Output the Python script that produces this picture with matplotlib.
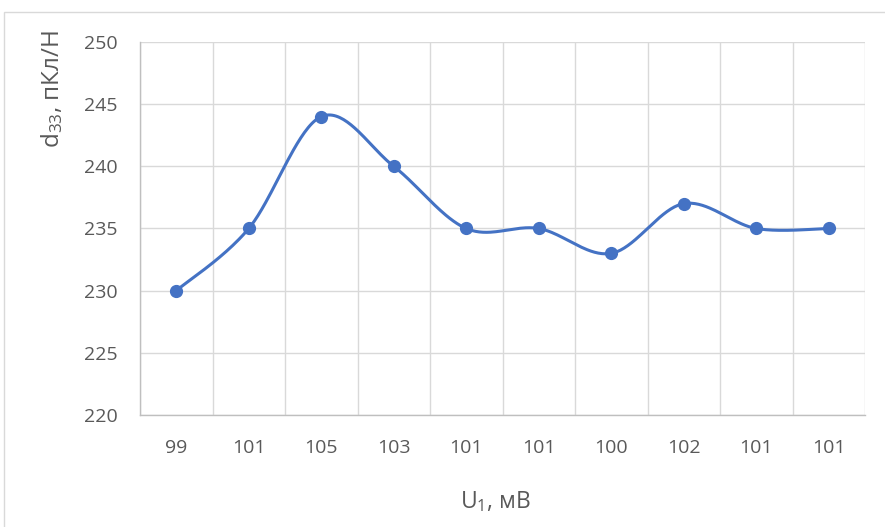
import numpy as np
import matplotlib
matplotlib.use("Agg")
import matplotlib.pyplot as plt
from matplotlib.patches import Rectangle

categories = ["99", "101", "105", "103", "101", "101", "100", "102", "101", "101"]
d33 = [230, 235, 244, 240, 235, 235, 233, 237, 235, 235]
y_ticks = [220, 225, 230, 235, 240, 245, 250]

plt.rcParams['font.family'] = ['Open Sans', 'DejaVu Sans']
plt.rcParams['mathtext.default'] = 'regular'

fig = plt.figure(figsize=(8.85, 5.27), dpi=100)
ax = fig.add_axes([140/885, 1-415/527, 725/885, 373/527])

# outer chart border
fig.patches.append(Rectangle((4/885, -0.1), 1.1, 1 - 12/527 + 0.1, transform=fig.transFigure,
                             fill=False, edgecolor='#d9d9d9', linewidth=1))

x = np.arange(len(d33))
y = np.array(d33, dtype=float)

# Catmull-Rom style smoothing (Excel-like)
def smooth(xs, ys, n=40):
    px = np.concatenate([[xs[0]], xs, [xs[-1]]])
    py = np.concatenate([[ys[0]], ys, [ys[-1]]])
    out_x, out_y = [], []
    t = np.linspace(0, 1, n)
    for i in range(1, len(px) - 2):
        p0 = np.array([px[i], py[i]])
        p3 = np.array([px[i+1], py[i+1]])
        p1 = p0 + (np.array([px[i+1], py[i+1]]) - np.array([px[i-1], py[i-1]])) / 6
        p2 = p3 - (np.array([px[i+2], py[i+2]]) - np.array([px[i], py[i]])) / 6
        b = ((1-t)**3)[:, None]*p0 + (3*(1-t)**2*t)[:, None]*p1 + (3*(1-t)*t**2)[:, None]*p2 + (t**3)[:, None]*p3
        out_x.extend(b[:, 0]); out_y.extend(b[:, 1])
    return np.array(out_x), np.array(out_y)

sx, sy = smooth(x.astype(float), y)
color = '#4472C4'
ax.plot(sx, sy, color=color, linewidth=2.2, solid_capstyle='round', zorder=3)
ax.plot(x, y, 'o', color=color, markersize=8.5, zorder=4)

ax.set_xlim(-0.5, len(d33) - 0.5)
ax.set_ylim(220, 250)
ax.set_yticks(y_ticks)
ax.set_xticks(x)
ax.set_xticklabels(categories)
ax.set_xticks(np.arange(-0.5, len(d33) + 0.5, 1), minor=True)

ax.grid(True, which='major', axis='y', color='#d9d9d9', linewidth=1)
ax.grid(True, which='minor', axis='x', color='#d9d9d9', linewidth=1)
ax.set_axisbelow(True)

for s in ['top', 'right']:
    ax.spines[s].set_visible(False)
for s in ['left', 'bottom']:
    ax.spines[s].set_color('#bfbfbf')
    ax.spines[s].set_linewidth(1)

ax.tick_params(axis='both', which='both', length=0, labelsize=14, labelcolor='#595959')
ax.tick_params(axis='x', pad=17)
ax.tick_params(axis='y', pad=16)

ax.set_ylabel('d$_{33}$, пКл/Н', fontsize=17.5, color='#595959')
ax.yaxis.set_label_coords(-0.103, 0.875)
ax.set_xlabel('U$_{1}$, мВ', fontsize=16.5, color='#595959')
ax.xaxis.set_label_coords(0.49, -0.2)

fig.savefig('out.png', dpi=100)
